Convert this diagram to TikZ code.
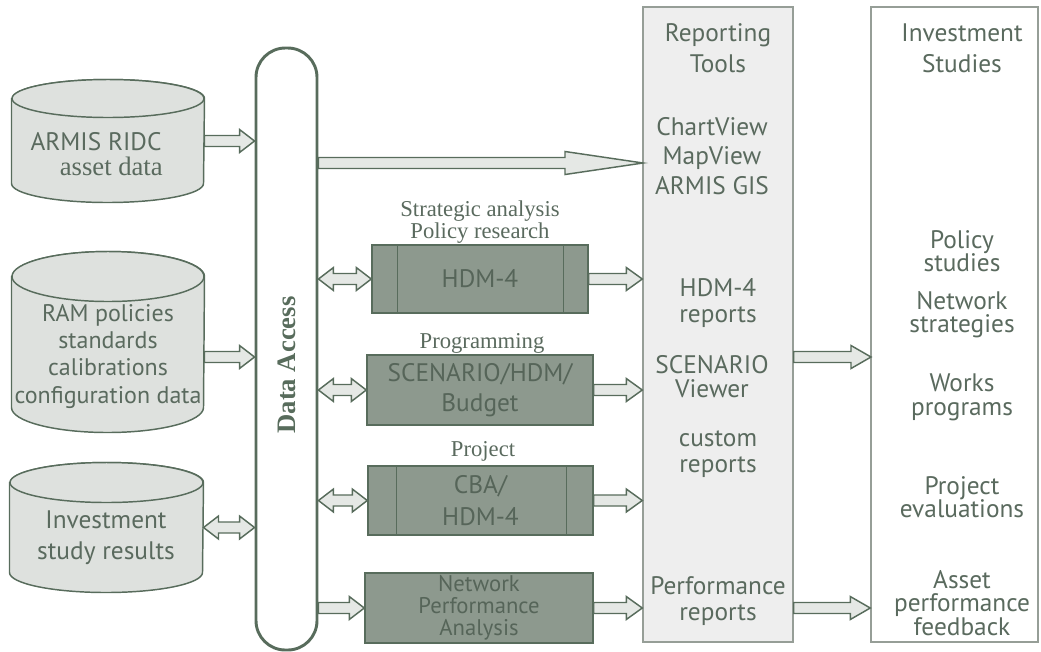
\documentclass[tikz,border=0pt]{standalone}
\usepackage{fontspec}
\setmainfont{Liberation Serif}
\setsansfont{PT Sans}
\usetikzlibrary{calc}

\definecolor{dkgreen}{RGB}{88,108,92}
\definecolor{txtgreen}{RGB}{90,106,94}
\definecolor{boxfill}{RGB}{141,153,142}
\definecolor{boxtext}{RGB}{86,101,89}
\definecolor{canfill}{RGB}{222,225,222}
\definecolor{arrfill}{RGB}{229,232,229}
\definecolor{panelline}{RGB}{150,158,151}
\definecolor{panelfill}{RGB}{238,238,238}

\tikzset{every picture/.style={line width=0.75pt}}
\tikzset{
  panel/.style={draw=panelline, line width=1.1pt, inner sep=0pt},
  pill/.style={draw=dkgreen, line width=2.2pt, rounded corners=22pt, inner sep=0pt},
  can/.style={inner sep=0pt},
  store/.style={draw=dkgreen, fill=canfill, line width=1.1pt},
  tool/.style={draw=dkgreen, fill=boxfill, line width=1.1pt, inner sep=0pt, text=boxtext, align=center, font=\sffamily\fontsize{19}{#1}\selectfont},
  tool/.default=22,
  fatarr/.style={draw=dkgreen, fill=arrfill, line width=1.1pt, line join=miter},
  lbl/.style={text=txtgreen, align=center, inner sep=0.75pt, font=\sffamily\fontsize{19}{#1}\selectfont},
  lbl/.default=22,
  rmlbl/.style={text=txtgreen, align=center, inner sep=0.75pt, font=\rmfamily\fontsize{17}{16}\selectfont},
}

% can drawn round a named node: #1 node, #2 x radius, #3 y radius
\newcommand{\storecan}[3]{%
  \draw[store] ($(#1.north west)+(0,#3)$) -- ($(#1.south west)+(0,-#3)$) arc[start angle=180, end angle=0, x radius=#2, y radius=#3] -- ($(#1.north east)+(0,#3)$) arc[start angle=0, end angle=-180, x radius=#2, y radius=#3] -- cycle;
  \draw[store] ($(#1.north)+(0,#3)$) ellipse[x radius=#2, y radius=#3];}
% block arrow, one head: [#1 head length] #2 from, #3 to
\newcommand{\fatarrow}[3][15]{%
  \draw[fatarr] ($#2+(0,-5.5)$) -- ($#3+(-#1,-5.5)$) -- ($#3+(-#1,-11.5)$) -- #3 -- ($#3+(-#1,11.5)$) -- ($#3+(-#1,5.5)$) -- ($#2+(0,5.5)$) -- cycle;}
% block arrow, two heads
\newcommand{\fatdblarrow}[3][15]{%
  \draw[fatarr] #2 -- ($#2+(#1,-11.5)$) -- ($#2+(#1,-5.5)$) -- ($#3+(-#1,-5.5)$) -- ($#3+(-#1,-11.5)$) -- #3 -- ($#3+(-#1,11.5)$) -- ($#3+(-#1,5.5)$) -- ($#2+(#1,5.5)$) -- ($#2+(#1,11.5)$) -- cycle;}

\begin{document}
\begin{tikzpicture}[x=0.75pt,y=0.75pt,yscale=-1,xscale=1]
\useasboundingbox (0,0) rectangle (1041,651);

%Shape: Rectangle
\node[panel, fill=panelfill, minimum width=112.5pt, minimum height=476.25pt] (rt) at (718,324.5) {};
%Shape: Rectangle
\node[panel, fill=white, minimum width=125.25pt, minimum height=476.25pt] (inv) at (954.5,324.5) {};

%Shape: Rounded Rect
\node[pill, minimum width=45.75pt, minimum height=451.5pt] (da) at (286.5,349) {};
% Text Node
\node[rotate=90, text=dkgreen, inner sep=0.75pt, font=\rmfamily\bfseries\fontsize{20}{22}\selectfont] (dalbl) at (287,365) {Data Access};

%Shape: Can
\node[can, minimum width=144pt, minimum height=91.5pt] (ridc) at (108,141) {};
\storecan{ridc}{96}{19}
%Shape: Can
\node[can, minimum width=144pt, minimum height=135pt] (ram) at (108,342) {};
\storecan{ram}{96}{25}
%Shape: Can
\node[can, minimum width=144.75pt, minimum height=96.75pt] (isr) at (106.5,527.5) {};
\storecan{isr}{96.5}{20}

% Text Node
\node[lbl=19, align=left, anchor=west] (ridclbl) at (29,154) {ARMIS RIDC\\\hspace*{22pt}{\rmfamily\fontsize{20}{19}\selectfont asset data}};
% Text Node
\node[lbl=20.5, font=\sffamily\fontsize{18}{20.5}\selectfont] (ramlbl) at (108,356) {RAM policies\\standards\\calibrations\\configuration data};
% Text Node
\node[lbl=23] (isrlbl) at (106,538) {Investment\\study results};

%Shape: Rectangle
\node[tool, minimum width=162pt, minimum height=51pt] (hdm) at (480,279) {HDM-4};
\draw[dkgreen, line width=1.1pt] ($(hdm.north west)+(26,0)$) -- ($(hdm.south west)+(26,0)$);
\draw[dkgreen, line width=1.1pt] ($(hdm.north east)+(-25,0)$) -- ($(hdm.south east)+(-25,0)$);
%Shape: Rectangle
\node[tool, minimum width=169.5pt, minimum height=52.5pt] (scen) at (480,390) {SCENARIO/HDM/\\Budget};
%Shape: Rectangle
\node[tool=24, minimum width=168.75pt, minimum height=51.75pt] (cba) at (480.5,500.5) {CBA/\\HDM-4};
\draw[dkgreen, line width=1.1pt] ($(cba.north west)+(29,0)$) -- ($(cba.south west)+(29,0)$);
\draw[dkgreen, line width=1.1pt] ($(cba.north east)+(-27,0)$) -- ($(cba.south east)+(-27,0)$);
%Shape: Rectangle
\node[tool, font=\sffamily\fontsize{17}{16.5}\selectfont, minimum width=171pt, minimum height=52.5pt] (npa) at (479,608) {Network\\Performance\\Analysis};

% Text Node
\node[rmlbl] (stratlbl) at (480,222) {Strategic analysis\\Policy research};
% Text Node
\node[rmlbl] (proglbl) at (482,343) {Programming};
% Text Node
\node[rmlbl] (projlbl) at (483,451) {Project};

% Text Node
\node[lbl=23] (rttitle) at (718,48) {Reporting\\Tools};
% Text Node
\node[lbl=22] (views) at (712,156) {ChartView\\MapView\\ARMIS GIS};
% Text Node
\node[lbl=20] (hdmrep) at (718,303) {HDM-4\\reports};
% Text Node
\node[lbl=18] (scenview) at (712,377) {SCENARIO\\Viewer};
% Text Node
\node[lbl=19.5] (custom) at (718,454) {custom\\reports};
% Text Node
\node[lbl=19.5] (perfrep) at (718,601) {Performance\\reports};

% Text Node
\node[lbl=23] (invtitle) at (962,48) {Investment\\Studies};
% Text Node
\node[lbl=17.5] (policy) at (962,251) {Policy\\studies};
% Text Node
\node[lbl=17.5] (netstrat) at (962,315) {Network\\strategies};
% Text Node
\node[lbl=18] (works) at (962,397) {Works\\programs};
% Text Node
\node[lbl=17.5] (projev) at (962,497) {Project\\evaluations};
% Text Node
\node[lbl=17.5] (assetfb) at (962,603) {Asset\\performance\\feedback};

\coordinate (ramout) at ($(ram.east)+(0,15)$);
\coordinate (gisin) at (643,163);
\coordinate (invin) at (871,357);

%Block Arrows
\fatarrow{(ridc.east)}{(da.west |- ridc.east)}
\fatarrow{(ramout)}{(da.west |- ramout)}
\fatdblarrow{(isr.east)}{(da.west |- isr.east)}
\fatarrow[78]{(da.east |- gisin)}{(gisin)}
\fatdblarrow{(da.east |- hdm.west)}{(hdm.west)}
\fatarrow[16]{(hdm.east)}{(rt.west |- hdm.east)}
\fatdblarrow{(da.east |- scen.west)}{(scen.west)}
\fatarrow[16]{(scen.east)}{(rt.west |- scen.east)}
\fatdblarrow{(da.east |- cba.west)}{(cba.west)}
\fatarrow[16]{(cba.east)}{(rt.west |- cba.east)}
\fatarrow{(da.east |- npa.west)}{(npa.west)}
\fatarrow[16]{(npa.east)}{(rt.west |- npa.east)}
\fatarrow[20]{(rt.east |- invin)}{(invin)}
\fatarrow[20]{(rt.east |- npa.east)}{(inv.west |- npa.east)}

\end{tikzpicture}
\end{document}
